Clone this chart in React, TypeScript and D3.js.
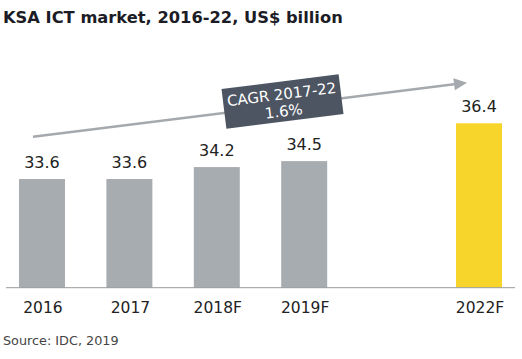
import React from "react";
import * as d3 from "d3";

const categories = ["2016", "2017", "2018F", "2019F", "2022F"];
const values = [33.6, 33.6, 34.2, 34.5, 36.4];
const slots = ["2016", "2017", "2018F", "2019F", "gap", "2022F"];
const barColors = ["#a7acb1", "#a7acb1", "#a7acb1", "#a7acb1", "#f8d52a"];
const title = "KSA ICT market, 2016-22, US$ billion";
const source = "Source: IDC, 2019";
const cagrLines = ["CAGR 2017-22", "1.6%"];

const W = 522;
const H = 359;
const FONT = "'DejaVu Sans', Verdana, sans-serif";

export default function App() {
  const x = d3.scaleBand<string>().domain(slots).range([19, 502]).paddingInner(0.474).paddingOuter(0);
  const y = d3.scaleLinear().domain([28.14, 36.4]).range([287.7, 123.3]);
  const baseY = y(28.14);

  const ax0 = 33, ay0 = 136.7, ax1 = 467, ay1 = 82.7;
  const ang = Math.atan2(ay1 - ay0, ax1 - ax0);
  const angDeg = (ang * 180) / Math.PI;
  const headLen = 13, headW = 6;
  const bx = ax1 - headLen * Math.cos(ang);
  const by = ay1 - headLen * Math.sin(ang);
  const px = -Math.sin(ang) * headW, py = Math.cos(ang) * headW;

  return (
    <svg width={W} height={H} style={{ position: "absolute", left: 0, top: 0, background: "#fff" }} fontFamily={FONT}>
      <text x={3} y={23} fontSize={16.3} fontWeight="bold" fill="#1c1c26">{title}</text>

      {categories.map((c, i) => (
        <g key={c}>
          <rect x={x(c)} y={y(values[i])} width={x.bandwidth()} height={baseY - y(values[i])} fill={barColors[i]} />
          <text x={x(c)! + x.bandwidth() / 2} y={y(values[i]) - 11} textAnchor="middle" fontSize={16} fill="#222">
            {values[i].toFixed(1)}
          </text>
          <text x={x(c)! + x.bandwidth() / 2 + 1} y={313} textAnchor="middle" fontSize={15.5} fill="#222">{c}</text>
        </g>
      ))}

      <line x1={6} x2={515} y1={baseY} y2={baseY} stroke="#9a9a9a" strokeWidth={1} />

      <line x1={ax0} y1={ay0} x2={bx} y2={by} stroke="#a5a9ad" strokeWidth={2.5} />
      <path d={`M${ax1},${ay1}L${bx + px},${by + py}L${bx - px},${by - py}Z`} fill="#a5a9ad" />

      <g transform={`translate(282.5,101.5) rotate(${angDeg})`}>
        <rect x={-59} y={-20} width={118} height={40} fill="#4d5563" />
        <text x={0} y={-2} textAnchor="middle" fontSize={15} fill="#fff">{cagrLines[0]}</text>
        <text x={0} y={15} textAnchor="middle" fontSize={15} fill="#fff">{cagrLines[1]}</text>
      </g>

      <text x={3} y={345} fontSize={12.8} fill="#444">{source}</text>
    </svg>
  );
}
